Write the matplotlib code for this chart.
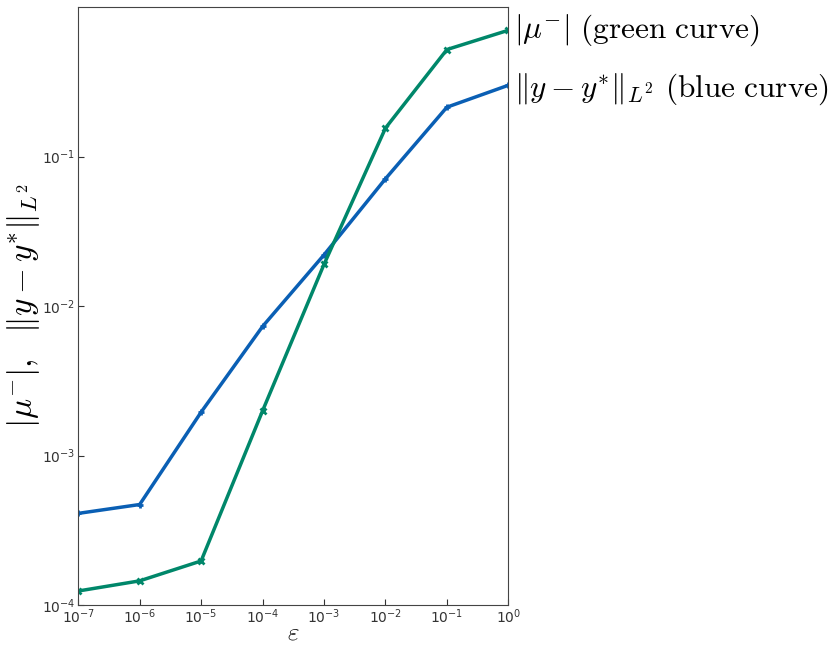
import matplotlib
matplotlib.use('Agg')
import matplotlib.pyplot as plt

eps = [1e-7, 1e-6, 1e-5, 1e-4, 1e-3, 1e-2, 1e-1, 1e0]
err_y = [4.1e-4, 4.7e-4, 1.95e-3, 7.3e-3, 2.2e-2, 7.1e-2, 0.214, 0.30]
mu_minus = [1.24e-4, 1.45e-4, 1.97e-4, 1.99e-3, 1.9e-2, 0.155, 0.52, 0.70]

plt.rcParams['mathtext.fontset'] = 'cm'

fig = plt.figure(figsize=(8.32, 6.46), dpi=100)
ax = fig.add_axes([0.094, 0.0635, 0.517, 0.9255])

ax.plot(eps, err_y, color='#0a5fb4', lw=2.5, marker='+', ms=5, mew=2)
ax.plot(eps, mu_minus, color='#00876a', lw=2.5, marker='x', ms=5, mew=2)

ax.set_xscale('log')
ax.set_yscale('log')
ax.set_xlim(1e-7, 1e0)
ax.set_ylim(1e-4, 1e0)
ax.set_xticks(eps)
ax.set_yticks([1e-4, 1e-3, 1e-2, 1e-1])
ax.minorticks_off()
ax.tick_params(labelsize=10, direction='in', length=4, pad=2, colors='#333333')
for s in ax.spines.values():
    s.set_color('#444444')

ax.set_xlabel(r'$\varepsilon$', fontsize=18, labelpad=-4)
ax.set_ylabel(r'$|\mu^{-}|,\ \ \|y-y^{*}\|_{L^2}$', fontsize=24, labelpad=0)

ax.annotate(r'$|\mu^{-}|\ \mathrm{(green\ curve)}$', xy=(eps[-1], mu_minus[-1]),
            xytext=(4, 0), textcoords='offset points', va='center', ha='left',
            fontsize=22.5, annotation_clip=False)
ax.annotate(r'$\|y-y^{*}\|_{L^2}\ \mathrm{(blue\ curve)}$', xy=(eps[-1], err_y[-1]),
            xytext=(4, -3), textcoords='offset points', va='center', ha='left',
            fontsize=22.5, annotation_clip=False)

fig.savefig('out.png', dpi=100)
